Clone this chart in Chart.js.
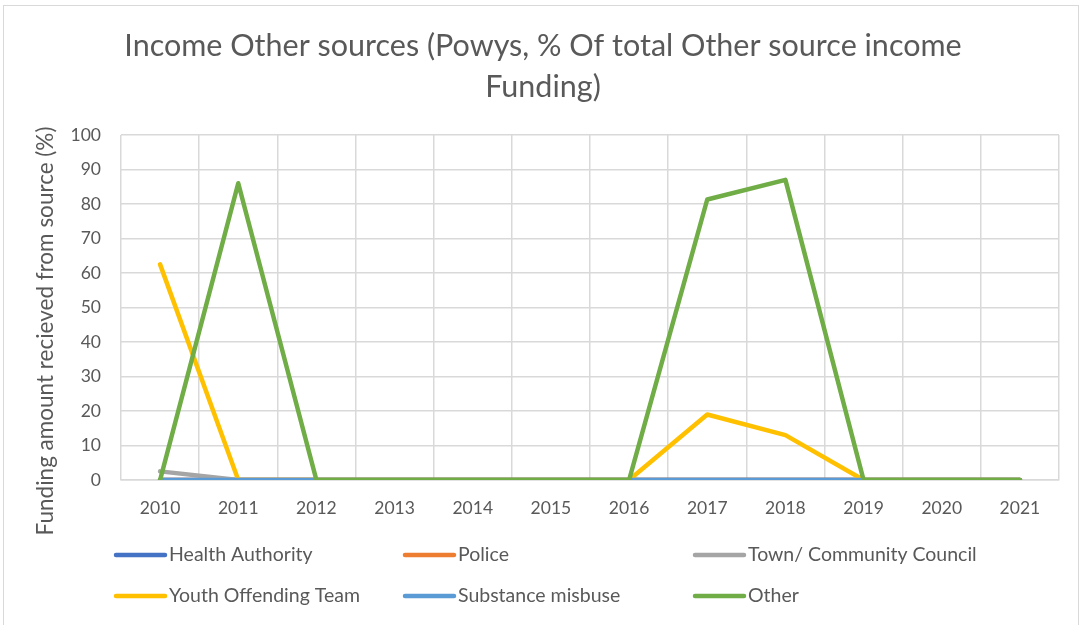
<!DOCTYPE html>
<html>
<head>
<meta charset="utf-8">
<script src="https://cdn.jsdelivr.net/npm/chart.js@4.4.0/dist/chart.umd.min.js"></script>
<style>
  html, body { margin: 0; padding: 0; background: #fff; }
  #wrap { position: relative; width: 1085px; height: 625px; overflow: hidden; }
  #frame { position: absolute; left: 3px; top: 5px; width: 1076px; height: 640px; border: 1.5px solid #d9d9d9; box-sizing: border-box; }
  canvas { position: absolute; left: 0; top: 0; }
</style>
</head>
<body>
<div id="wrap">
  <div id="frame"></div>
  <canvas id="c" width="1085" height="625"></canvas>
</div>
<script>
const years = ['2010','2011','2012','2013','2014','2015','2016','2017','2018','2019','2020','2021'];
const healthAuthority   = [0, 0, 0, 0, 0, 0, 0, 0, 0, 0, 0, 0];
const police            = [0, 0, 0, 0, 0, 0, 0, 0, 0, 0, 0, 0];
const townCouncil       = [2.5, 0, 0, 0, 0, 0, 0, 0, 0, 0, 0, 0];
const youthOffending    = [62.5, 0, 0, 0, 0, 0, 0, 19, 13, 0, 0, 0];
const substanceMisbuse  = [0, 0, 0, 0, 0, 0, 0, 0, 0, 0, 0, 0];
const other             = [0, 86, 0, 0, 0, 0, 0, 81.3, 87, 0, 0, 0];
const yTicks = [0, 10, 20, 30, 40, 50, 60, 70, 80, 90, 100];
const seriesNames = ['Health Authority', 'Police', 'Town/ Community Council', 'Youth Offending Team', 'Substance misbuse', 'Other'];
const seriesColors = ['#4472C4', '#ED7D31', '#A5A5A5', '#FFC000', '#5B9BD5', '#70AD47'];
const titleLines = ['Income Other sources (Powys, % Of total Other source income', 'Funding)'];
const yAxisTitle = 'Funding amount recieved from source (%)';

const FONT = 'Lato, "Open Sans", sans-serif';
const TXT = '#595959';

const allData = [healthAuthority, police, townCouncil, youthOffending, substanceMisbuse, other];
const drawOrder = [5, 4, 3, 2, 1, 0];

const datasets = allData.map((d, i) => ({
  label: seriesNames[i],
  data: d,
  borderColor: seriesColors[i],
  backgroundColor: seriesColors[i],
  borderWidth: 4.5,
  pointRadius: 0,
  pointHoverRadius: 0,
  tension: 0,
  fill: false,
  borderCapStyle: 'round',
  borderJoinStyle: 'round',
  order: drawOrder[i]
}));

const extrasPlugin = {
  id: 'extras',
  afterDraw(chart) {
    const ctx = chart.ctx;
    // chart title
    ctx.save();
    ctx.font = '30.5px ' + FONT;
    ctx.fillStyle = TXT;
    ctx.textAlign = 'center';
    ctx.textBaseline = 'middle';
    ctx.fillText(titleLines[0], 543, 46);
    ctx.fillText(titleLines[1], 543, 87);
    ctx.restore();
    // y axis title
    ctx.save();
    ctx.font = '22.5px ' + FONT;
    ctx.fillStyle = TXT;
    ctx.textAlign = 'center';
    ctx.textBaseline = 'middle';
    ctx.translate(46, 331);
    ctx.rotate(-Math.PI / 2);
    ctx.fillText(yAxisTitle, 0, 0);
    ctx.restore();
    // legend in 3 columns
    const cols = [116, 405, 695];
    const rows = [555, 596];
    ctx.save();
    ctx.font = '19.5px ' + FONT;
    ctx.textBaseline = 'middle';
    ctx.textAlign = 'left';
    datasets.forEach((ds, i) => {
      const x = cols[i % 3];
      const y = rows[Math.floor(i / 3)];
      ctx.strokeStyle = ds.borderColor;
      ctx.lineWidth = 4.5;
      ctx.lineCap = 'round';
      ctx.beginPath();
      ctx.moveTo(x, y);
      ctx.lineTo(x + 49, y);
      ctx.stroke();
      ctx.fillStyle = TXT;
      ctx.fillText(ds.label, x + 53, y);
    });
    ctx.restore();
  }
};

new Chart(document.getElementById('c'), {
  type: 'line',
  data: { labels: years, datasets },
  options: {
    responsive: false,
    animation: false,
    layout: { padding: { left: 10, right: 26, top: 135, bottom: 100 } },
    plugins: {
      legend: { display: false },
      tooltip: { enabled: false },
      title: { display: false }
    },
    scales: {
      x: {
        offset: true,
        grid: { color: '#d9d9d9', lineWidth: 1.5, offset: true, drawTicks: false },
        border: { color: '#d9d9d9', width: 1.5 },
        ticks: { color: TXT, font: { family: FONT, size: 17.5 }, padding: 18, maxRotation: 0 },
        afterFit(s) { s.height = 45; }
      },
      y: {
        min: 0, max: 100,
        afterBuildTicks(s) { s.ticks = yTicks.map(v => ({ value: v })); },
        grid: { color: '#d9d9d9', lineWidth: 1.5, drawTicks: false },
        border: { display: false },
        ticks: { color: TXT, font: { family: FONT, size: 17.5 }, padding: 20 },
        title: { display: false },
        afterFit(s) { s.width = 111; }
      }
    }
  },
  plugins: [extrasPlugin]
});
</script>
</body>
</html>
